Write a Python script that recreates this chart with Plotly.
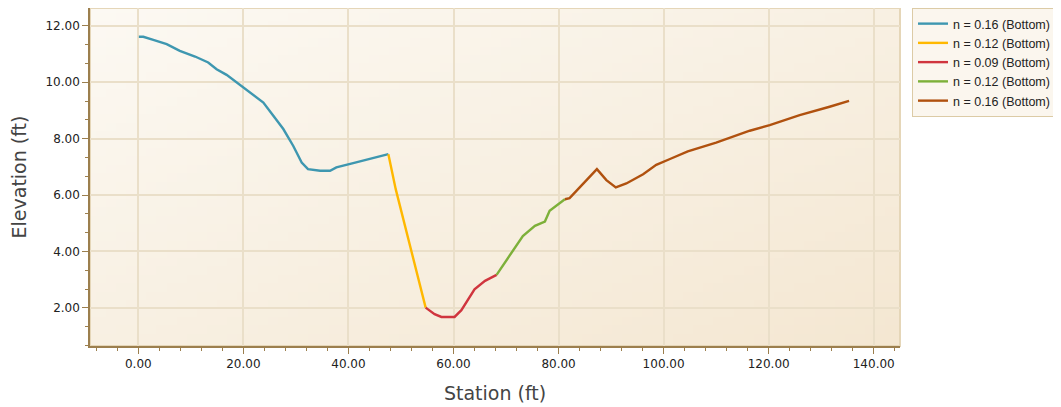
import base64
import struct
import zlib

import plotly.graph_objects as go

# Series data (Station ft, Elevation ft)
names = ["n = 0.16 (Bottom)", "n = 0.12 (Bottom)", "n = 0.09 (Bottom)",
         "n = 0.12 (Bottom)", "n = 0.16 (Bottom)"]
colors = ["#3E97B0", "#FFB800", "#D0353E", "#7DB03A", "#B0510F"]

s1_x = [0.1, 0.95, 2.85, 5.4, 7.9, 10.8, 13.3, 14.9, 16.8, 20.0, 23.8, 25.7, 27.6,
        29.5, 31.1, 32.3, 34.6, 36.5, 37.7, 40.9, 44.7, 47.6]
s1_y = [11.61, 11.61, 11.50, 11.35, 11.11, 10.91, 10.70, 10.46, 10.26, 9.81, 9.28,
        8.81, 8.34, 7.74, 7.15, 6.92, 6.86, 6.86, 6.98, 7.13, 7.31, 7.45]

s2_x = [47.6, 49.0, 54.7]
s2_y = [7.45, 6.21, 2.01]

s3_x = [54.7, 56.4, 57.7, 60.2, 61.5, 64.0, 66.0, 68.2]
s3_y = [2.01, 1.78, 1.68, 1.68, 1.92, 2.66, 2.96, 3.17]

s4_x = [68.2, 73.2, 75.5, 77.4, 78.3, 80.8, 81.2]
s4_y = [3.17, 4.55, 4.91, 5.06, 5.44, 5.82, 5.85]

s5_x = [81.2, 82.1, 87.3, 89.1, 90.9, 92.9, 96.1, 98.6, 101.1, 104.6, 110.0, 116.4,
        120.2, 125.9, 131.6, 135.3]
s5_y = [5.85, 5.89, 6.92, 6.53, 6.27, 6.41, 6.74, 7.07, 7.27, 7.55, 7.86, 8.28,
        8.48, 8.83, 9.13, 9.34]

xs = [s1_x, s2_x, s3_x, s4_x, s5_x]
ys = [s1_y, s2_y, s3_y, s4_y, s5_y]


def gradient_png(w, h, c0, c1):
    """Diagonal gradient PNG (top-left c0 -> bottom-right c1) as data URI."""
    rows = b""
    for j in range(h):
        row = b"\x00"
        for i in range(w):
            t = (i / (w - 1) + j / (h - 1)) / 2
            row += bytes(int(round(a + (b - a) * t)) for a, b in zip(c0, c1))
        rows += row

    def chunk(tag, data):
        c = struct.pack(">I", len(data)) + tag + data
        return c + struct.pack(">I", zlib.crc32(tag + data) & 0xFFFFFFFF)

    png = b"\x89PNG\r\n\x1a\n"
    png += chunk(b"IHDR", struct.pack(">IIBBBBB", w, h, 8, 2, 0, 0, 0))
    png += chunk(b"IDAT", zlib.compress(rows))
    png += chunk(b"IEND", b"")
    return "data:image/png;base64," + base64.b64encode(png).decode()


bg_img = gradient_png(80, 40, (252, 249, 243), (244, 231, 210))

fig = go.Figure()
for name, c, x, y in zip(names, colors, xs, ys):
    fig.add_trace(go.Scatter(x=x, y=y, mode="lines", name=name,
                             line=dict(color=c, width=2.4)))

axis_col = "#9C7F4E"
grid_col = "#EADFC9"
tick_font = dict(family="DejaVu Sans", size=12, color="#222222")
title_font = dict(family="DejaVu Sans", size=19, color="#444444")

# page body has an 8px default margin; figure is sized to the remaining window
fig.update_layout(
    width=1053, height=400,
    margin=dict(l=82, r=161, t=0, b=62),
    paper_bgcolor="white",
    plot_bgcolor="rgba(0,0,0,0)",
    images=[dict(source=bg_img, xref="paper", yref="paper", x=0, y=1,
                 sizex=1, sizey=1, xanchor="left", yanchor="top",
                 sizing="stretch", layer="below")],
    shapes=[dict(type="rect", xref="paper", yref="paper", x0=0, y0=0, x1=1, y1=1,
                 line=dict(color="#E5D6B8", width=2), layer="below")],
    showlegend=True,
    legend=dict(
        x=1.0148, xanchor="left", y=1.0, yanchor="top",
        bgcolor="#FBF6EE", bordercolor="#DCCBA6", borderwidth=1,
        font=dict(family="Liberation Sans", size=12.5, color="#222222"),
        itemwidth=30, tracegroupgap=0,
    ),
    xaxis=dict(
        range=[-9.2, 145], tickmode="linear", tick0=0, dtick=20,
        tickformat=".2f", tickfont=tick_font, automargin=False,
        showgrid=True, gridcolor=grid_col, gridwidth=1.5,
        zeroline=False, showline=True, linecolor=axis_col, linewidth=1.5,
        ticks="outside", ticklen=6, tickcolor=axis_col,
        minor=dict(dtick=4, tick0=0, ticks="outside", ticklen=3, tickcolor=axis_col, showgrid=False),
        title=dict(text="Station (ft)", font=title_font, standoff=17),
    ),
    yaxis=dict(
        range=[0.65, 12.63], tickmode="linear", tick0=0, dtick=2,
        tickformat=".2f", tickfont=tick_font, automargin=False,
        showgrid=True, gridcolor=grid_col, gridwidth=1.5,
        zeroline=False, showline=True, linecolor=axis_col, linewidth=1.5,
        ticks="outside", ticklen=6, tickcolor=axis_col,
        minor=dict(dtick=2/3, tick0=0, ticks="outside", ticklen=3, tickcolor=axis_col, showgrid=False),
        title=dict(text="Elevation (ft)", font=title_font, standoff=14),
    ),
)

fig.write_html("out.html")
